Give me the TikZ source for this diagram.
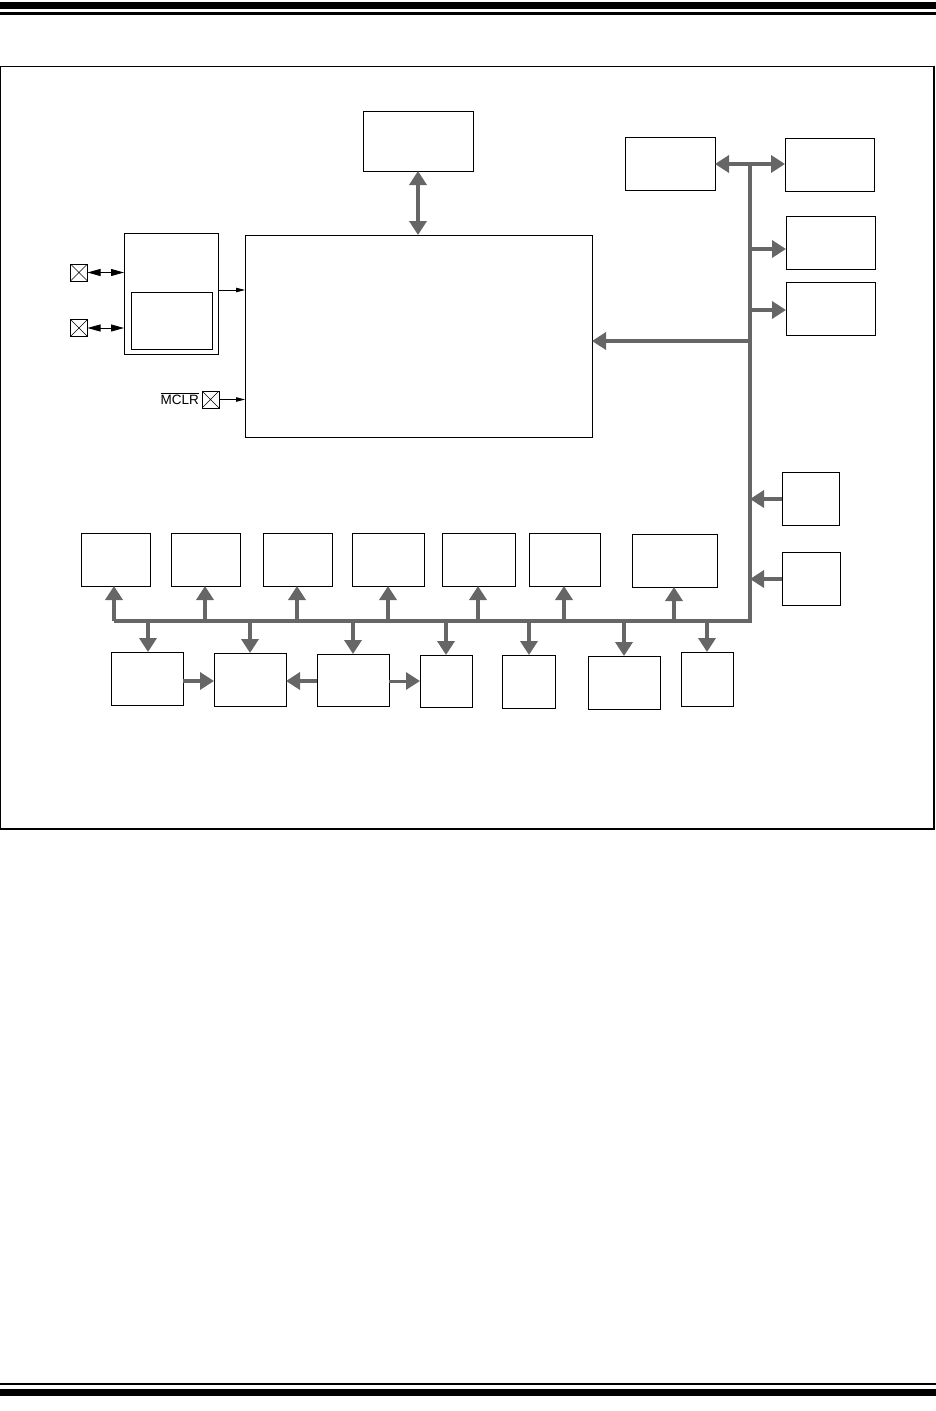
\documentclass[tikz,border=0pt]{standalone}
\usepackage{fontspec}
\setmainfont{Liberation Sans}
\usetikzlibrary{arrows.meta}
\definecolor{busgray}{RGB}{102,102,102}
\tikzset{
  box/.style={draw=black, line width=1pt, inner sep=0pt, outer sep=0pt, anchor=north west},
  xpin/.style={draw=black, line width=0.8pt, minimum size=17pt, inner sep=0pt, outer sep=0pt,
    path picture={\draw[line width=0.6pt] (path picture bounding box.south west) -- (path picture bounding box.north east)
      (path picture bounding box.north west) -- (path picture bounding box.south east);}},
  bus/.style={draw=busgray, line width=4pt},
  garr/.style={draw=busgray, line width=4pt, -{Triangle[length=14pt,width=17pt]}},
  garrthin/.style={draw=busgray, line width=3pt, -{Triangle[length=14pt,width=17pt]}},
  garrtwo/.style={draw=busgray, line width=4pt, {Triangle[length=14pt,width=17pt]}-{Triangle[length=14pt,width=17pt]}},
  barr/.style={draw=black, line width=0.8pt, -{Triangle[length=9pt,width=4.5pt]}},
  barrtwo/.style={draw=black, line width=0.9pt, {Triangle[length=13pt,width=7pt]}-{Triangle[length=13pt,width=7pt]}},
}
\newcommand{\bx}[5]{\node[box, minimum width={(#4-#2)*1pt}, minimum height={(#5-#3)*1pt}] (#1) at (#2,#3) {};}
\begin{document}
\begin{tikzpicture}[x=1pt,y=-1pt]
\useasboundingbox (0,0) rectangle (936,1411);
% page rules
\fill[black] (0,2) rectangle (936,8.5);
\fill[black] (0,12) rectangle (936,14.5);
\fill[black] (0,1382.5) rectangle (936,1385);
\fill[black] (0,1389) rectangle (936,1395.5);
% frame
\draw[line width=1.4pt] (0.7,66.5) rectangle (934,829);
% core boxes
\bx{mem}{363}{111}{473}{171}
\bx{cpu}{245}{235}{592}{437}
\bx{osc}{124}{233}{218}{354}
\bx{oscin}{131}{292}{212}{349}
% pins
\node[xpin] (p1) at (79,272.5) {};
\node[xpin] (p2) at (79,328) {};
\node[xpin] (p3) at (210.5,399.5) {};
\node[anchor=east, inner sep=0pt, font=\fontsize{13.5}{15}\selectfont] (mclr) at ([xshift=-3pt,yshift=1pt]p3.west) {$\overline{\hbox{MCLR}}$};
\draw[barrtwo] (p1.east) -- (p1.east -| osc.west);
\draw[barrtwo] (p2.east) -- (p2.east -| osc.west);
\draw[barr] (osc.east |- 0,290) coordinate (oe) -- (oe -| cpu.west);
\draw[barr] (p3.east) -- (p3.east -| cpu.west);
\draw[garrtwo] (mem.south) -- (mem.south |- cpu.north);
% right side boxes
\bx{r1}{625}{137}{715}{190}
\bx{r2}{785}{138}{874}{191}
\bx{r3}{786}{216}{875}{269}
\bx{r4}{786}{282}{875}{335}
\bx{r5}{782}{472}{839}{525}
\bx{r6}{782}{552}{840}{605}
% top row boxes
\bx{t1}{81}{533}{150}{586}
\bx{t2}{171}{533}{240}{586}
\bx{t3}{263}{533}{332}{586}
\bx{t4}{352}{533}{424}{586}
\bx{t5}{442}{533}{515}{586}
\bx{t6}{529}{533}{600}{586}
\bx{t7}{632}{534}{717}{587}
% bottom row boxes
\bx{d1}{111}{652}{183}{705}
\bx{d2}{214}{653}{286}{706}
\bx{d3}{317}{654}{389}{706}
\bx{d4}{420}{655}{472}{707}
\bx{d5}{502}{655}{555}{708}
\bx{d6}{588}{656}{660}{709}
\bx{d7}{681}{652}{733}{706}
% bus
\coordinate (busL) at (114,621);
\coordinate (busC) at (750,621);
\coordinate (busT) at (750,164);
\draw[bus, line join=miter] (busL) -- (busC) -- (busT);
\draw[garrtwo] (r1.east |- busT) -- (r2.west |- busT);
\coordinate (j3) at (750,249);
\coordinate (j4) at (750,310);
\coordinate (jc) at (750,341);
\coordinate (j5) at (750,499);
\coordinate (j6) at (750,579);
\draw[garr] (j3) -- (j3 -| r3.west);
\draw[garr] (j4) -- (j4 -| r4.west);
\draw[garr] (jc) -- (jc -| cpu.east);
\draw[garr] (j5 -| r5.west) -- (j5);
\draw[garr] (j6 -| r6.west) -- (j6);
% up arrows to top row
\foreach \n/\x in {t1/114,t2/205,t3/297,t4/388,t5/478,t6/564,t7/674}{
  \draw[garr] (\x,621) -- (\x,621 |- \n.south);
}
% down arrows to bottom row
\foreach \n/\x in {d1/148,d2/250,d3/353,d4/446,d5/529,d6/624,d7/707}{
  \draw[garr] (\x,621) -- (\x,621 |- \n.north);
}
% horizontal links in bottom row
\coordinate (h) at (0,681);
\draw[garr] (h -| d1.east) -- (h -| d2.west);
\draw[garr] (h -| d3.west) -- (h -| d2.east);
\draw[garrthin] (h -| d3.east) -- (h -| d4.west);
\end{tikzpicture}
\end{document}
